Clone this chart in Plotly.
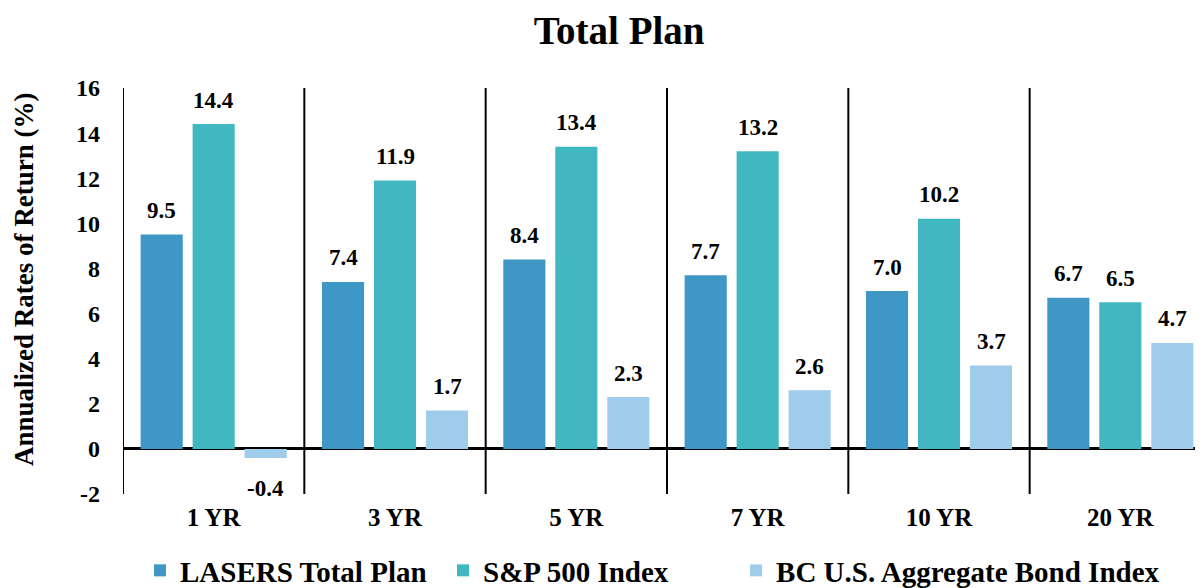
import plotly.graph_objects as go

categories = ["1 YR", "3 YR", "5 YR", "7 YR", "10 YR", "20 YR"]
lasers = [9.5, 7.4, 8.4, 7.7, 7.0, 6.7]
sp500 = [14.4, 11.9, 13.4, 13.2, 10.2, 6.5]
bond = [-0.4, 1.7, 2.3, 2.6, 3.7, 4.7]
series_names = ["LASERS Total Plan", "S&P 500 Index", "BC U.S. Aggregate Bond Index"]
colors = ["#3E97C5", "#40B7C1", "#A0CCEC"]
y_ticks = [-2, 0, 2, 4, 6, 8, 10, 12, 14, 16]
y_ticktext = [str(v) for v in y_ticks]  # hyphen minus like the original

FONT = "Liberation Serif, Palatino Linotype, serif"
series = [lasers, sp500, bond]
legend_ids = ["legend", "legend2", "legend3"]
legend_x = [0.1097, 0.3616, 0.6052]


def bfont(size):
    return dict(family=FONT, size=size, color="black", weight="bold")


fig = go.Figure()
for name, vals, col in zip(series_names, series, colors):
    fig.add_trace(go.Bar(x=categories, y=vals, name=name, marker_color=col,
                         marker_line_width=0, showlegend=False))
# legend entries with square swatches
for name, col, lid in zip(series_names, colors, legend_ids):
    fig.add_trace(go.Scatter(x=[None], y=[None], mode="markers", name=name,
                             legend=lid,
                             marker=dict(symbol="square", size=18, color=col)))

# value labels
for i, vals in enumerate(series):
    for c, v in zip(categories, vals):
        fig.add_annotation(x=c, y=v, text=f"{v:.1f}", showarrow=False,
                           xshift=(i - 1) * 52, yshift=24 if v >= 0 else -31,
                           font=bfont(23))

# y-axis title
fig.add_annotation(text="Annualized Rates of Return (%)", xref="paper", yref="paper",
                   x=0, y=0.527, xanchor="center", yanchor="middle", xshift=-99,
                   textangle=-90, showarrow=False, font=bfont(27))

# category separators
for k in range(len(categories) + 1):
    fig.add_shape(type="line", xref="x", yref="y", x0=k - 0.5, x1=k - 0.5,
                  y0=-2, y1=16, line=dict(color="black", width=2), layer="above")

legend_common = dict(orientation="h", xref="container", yref="container",
                     xanchor="left", y=-0.04, yanchor="bottom",
                     font=bfont(29), itemsizing="constant")

fig.update_layout(
    width=1203, height=588,
    margin=dict(l=115, r=0, t=80, b=102, autoexpand=False),
    paper_bgcolor="white", plot_bgcolor="white",
    title=dict(text="Total Plan", x=0.508, xanchor="center", y=0.962, yanchor="middle",
               font=bfont(39)),
    barmode="group", bargap=0.14, bargroupgap=0.19,
    font=dict(family=FONT, color="black"),
    xaxis=dict(range=[-0.5, 5.5], showgrid=False, showline=False, ticks="",
               automargin=False, tickfont=bfont(25), ticklabelstandoff=6),
    yaxis=dict(range=[-2, 16], tickvals=y_ticks, ticktext=y_ticktext,
               showgrid=False, showline=False, automargin=False,
               zeroline=True, zerolinecolor="black", zerolinewidth=3,
               ticks="", ticklabelstandoff=22, tickfont=bfont(24)),
    legend=dict(x=legend_x[0], **legend_common),
    legend2=dict(x=legend_x[1], **legend_common),
    legend3=dict(x=legend_x[2], **legend_common),
    showlegend=True,
)

fig.write_html("out.html")
